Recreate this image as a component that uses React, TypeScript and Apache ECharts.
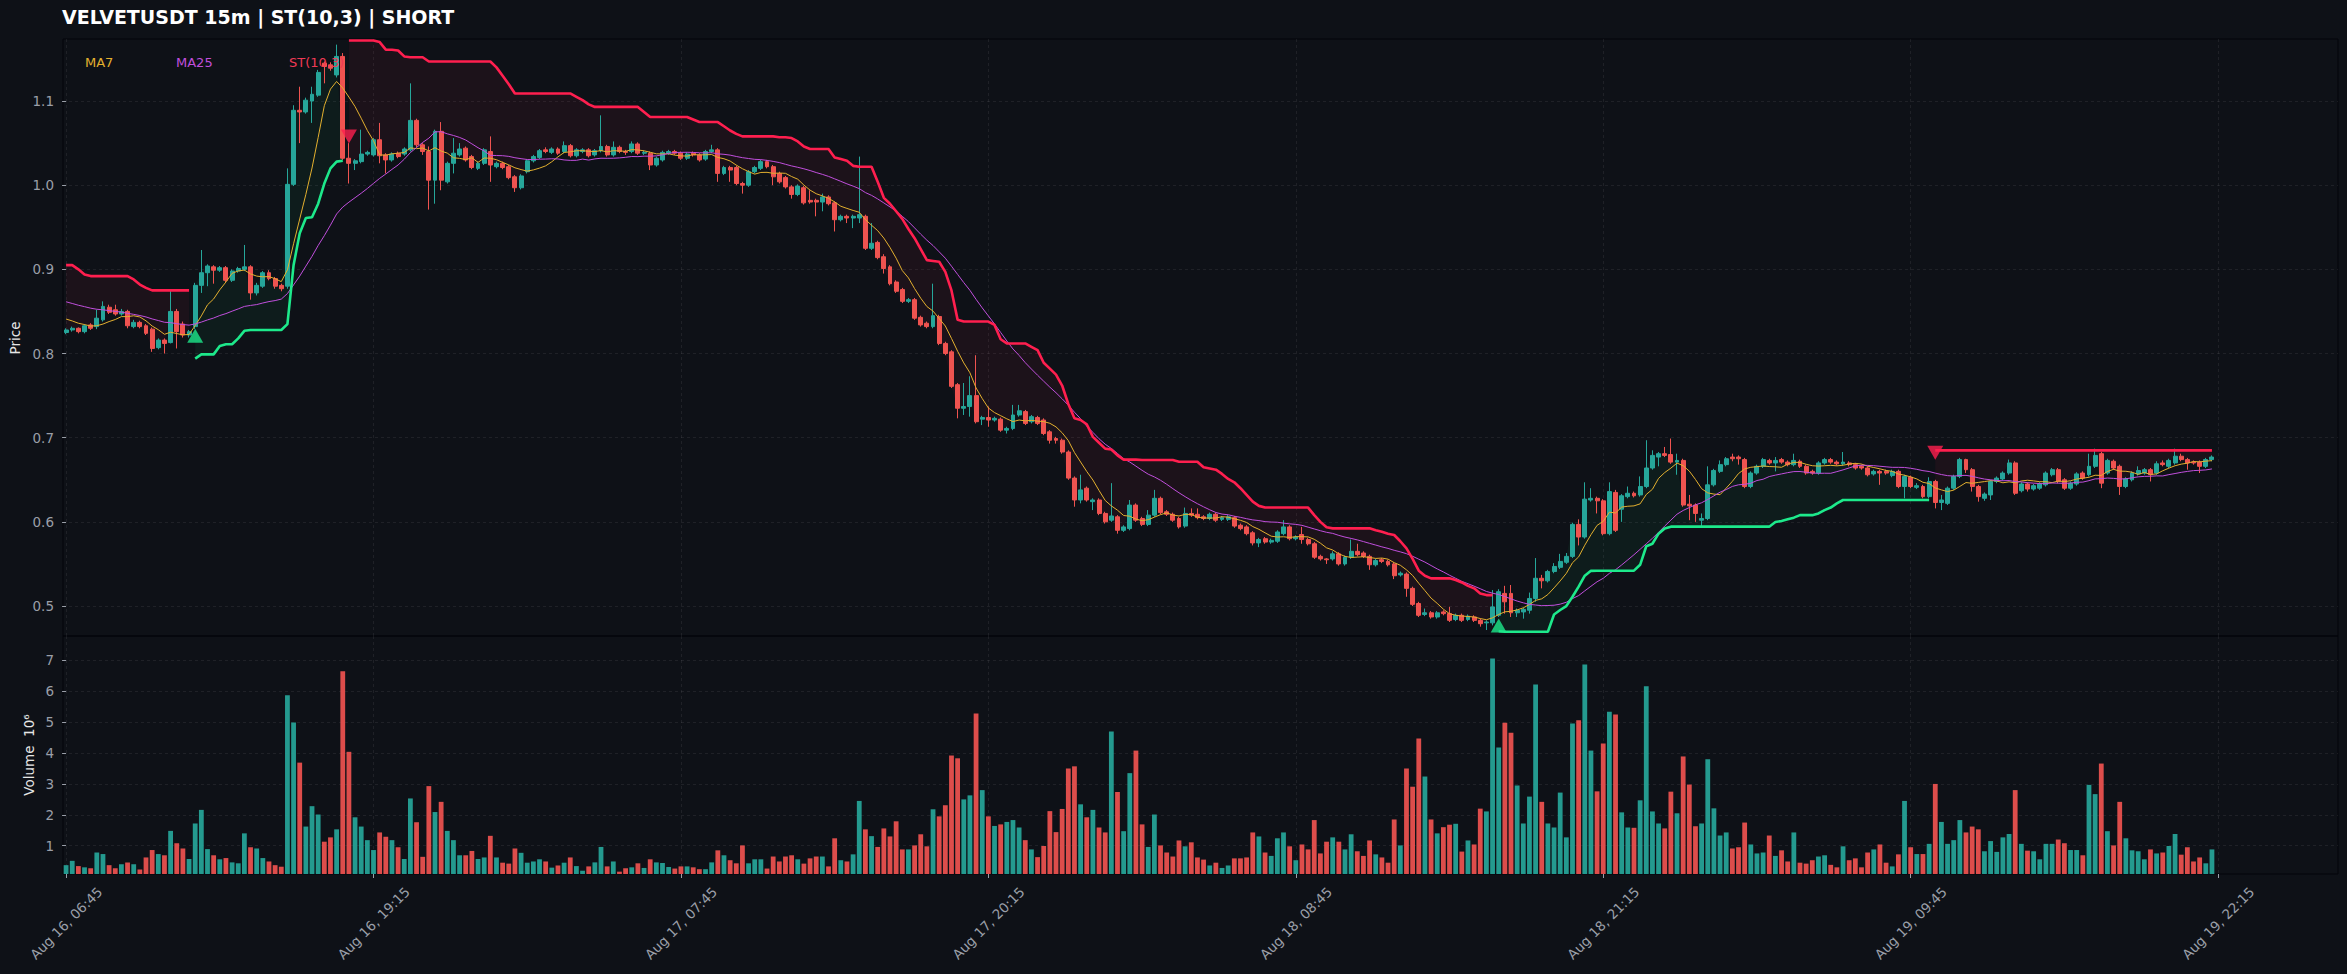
import React, { useEffect, useRef } from "react";
import * as echarts from "echarts";

// ---------------- DATA ----------------
const TITLE = "VELVETUSDT 15m | ST(10,3) | SHORT";
const TICK_LABELS = [
  "Aug 16, 06:45", "Aug 16, 19:15", "Aug 17, 07:45", "Aug 17, 20:15",
  "Aug 18, 08:45", "Aug 18, 21:15", "Aug 19, 09:45", "Aug 19, 22:15",
];
const TICK_STEP = 50; // bars between date ticks

// closes before the first visible bar (only used to seed the moving averages)
const PRIOR_CLOSES = [
  .880, .878, .876, .875, .874, .873, .872, .871, .870, .869, .868, .867,
  .866, .865, .864, .863, .862, .857, .846, .845, .844, .842, .840, .842,
];

// [open, close, low, high]
const OHLC: number[][] = [
  [.825,.828,.823,.830],[.828,.830,.826,.832],[.830,.826,.824,.831],[.826,.833,.824,.835],[.834,.830,.828,.836],
  [.832,.842,.829,.852],[.840,.856,.838,.862],[.855,.849,.847,.858],[.852,.847,.845,.858],[.847,.850,.845,.853],
  [.850,.833,.830,.852],[.832,.837,.830,.840],[.837,.832,.830,.839],[.833,.824,.822,.835],[.829,.806,.802,.831],
  [.807,.816,.805,.818],[.816,.812,.800,.818],[.813,.850,.812,.876],[.850,.826,.806,.853],[.835,.822,.819,.838],
  [.822,.826,.819,.828],[.832,.881,.829,.884],[.881,.896,.872,.923],[.896,.904,.880,.906],[.903,.899,.883,.905],
  [.899,.902,.897,.904],[.902,.887,.885,.904],[.887,.898,.885,.900],[.898,.901,.896,.903],[.900,.903,.898,.929],
  [.903,.872,.864,.905],[.872,.881,.869,.884],[.880,.896,.878,.898],[.896,.889,.887,.899],[.889,.880,.877,.891],
  [.881,.877,.874,.883],[.880,1.001,.877,1.020],[1.001,1.089,.999,1.095],[1.089,1.087,1.050,1.117],[1.087,1.101,1.085,1.104],
  [1.100,1.108,1.074,1.117],[1.107,1.134,1.105,1.137],[1.145,1.141,1.121,1.147],[1.143,1.139,1.136,1.146],[1.131,1.153,1.128,1.167],
  [1.153,1.032,1.030,1.157],[1.032,1.026,1.002,1.050],[1.026,1.029,1.018,1.031],[1.028,1.037,1.026,1.066],[1.037,1.039,1.035,1.041],
  [1.036,1.054,1.034,1.056],[1.054,1.035,1.026,1.074],[1.036,1.030,1.014,1.038],[1.030,1.037,1.028,1.039],[1.038,1.034,1.032,1.040],
  [1.037,1.043,1.035,1.045],[1.042,1.077,1.040,1.121],[1.077,1.048,1.045,1.079],[1.048,1.040,1.036,1.050],[1.040,1.006,.971,1.046],
  [1.006,1.064,.978,1.066],[1.064,1.006,.994,1.075],[1.004,1.026,1.002,1.028],[1.026,1.038,1.014,1.056],[1.036,1.043,1.034,1.050],
  [1.044,1.030,1.028,1.046],[1.034,1.021,1.019,1.036],[1.020,1.026,1.018,1.028],[1.026,1.042,1.024,1.044],[1.040,1.024,1.004,1.058],
  [1.022,1.026,1.020,1.028],[1.026,1.021,1.019,1.028],[1.022,1.009,1.007,1.024],[1.010,.997,.992,1.012],[.997,1.011,.995,1.013],
  [1.016,1.029,1.014,1.031],[1.029,1.034,1.027,1.036],[1.033,1.041,1.031,1.043],[1.042,1.040,1.038,1.045],[1.039,1.043,1.037,1.045],
  [1.043,1.038,1.036,1.045],[1.040,1.047,1.038,1.052],[1.047,1.035,1.033,1.049],[1.035,1.042,1.033,1.044],[1.040,1.042,1.038,1.044],
  [1.042,1.035,1.033,1.044],[1.036,1.041,1.034,1.043],[1.041,1.046,1.039,1.083],[1.046,1.036,1.034,1.048],[1.036,1.045,1.034,1.052],
  [1.045,1.040,1.038,1.047],[1.040,1.039,1.036,1.042],[1.040,1.049,1.038,1.052],[1.049,1.038,1.036,1.051],[1.038,1.039,1.036,1.041],
  [1.038,1.024,1.018,1.040],[1.024,1.032,1.022,1.034],[1.030,1.039,1.028,1.041],[1.038,1.040,1.036,1.042],[1.040,1.038,1.036,1.042],
  [1.038,1.032,1.030,1.040],[1.032,1.037,1.030,1.039],[1.038,1.036,1.034,1.040],[1.036,1.030,1.028,1.038],[1.031,1.040,1.029,1.042],
  [1.040,1.042,1.038,1.048],[1.042,1.014,1.004,1.044],[1.014,1.021,1.012,1.023],[1.021,1.018,1.004,1.023],[1.021,1.002,1.000,1.023],
  [1.002,1.000,.990,1.004],[1.000,1.016,.998,1.018],[1.016,1.021,1.014,1.023],[1.020,1.028,1.018,1.030],[1.028,1.022,1.020,1.030],
  [1.022,1.010,1.000,1.024],[1.014,1.004,1.002,1.016],[1.009,.998,.996,1.011],[.998,.989,.984,1.000],[.989,.999,.987,1.001],
  [.997,.979,.977,.999],[.982,.980,.978,.994],[.982,.980,.963,.984],[.980,.986,.969,.990],[.986,.978,.976,.988],
  [.979,.959,.945,.981],[.959,.963,.957,.965],[.963,.961,.955,.965],[.961,.963,.949,.965],[.961,.965,.955,1.034],
  [.963,.925,.923,.965],[.925,.931,.923,.955],[.932,.914,.912,.934],[.915,.901,.895,.918],[.903,.883,.881,.905],
  [.885,.874,.872,.887],[.876,.862,.860,.878],[.862,.864,.860,.866],[.864,.842,.840,.866],[.843,.834,.832,.845],
  [.836,.832,.830,.838],[.832,.845,.830,.883],[.844,.812,.810,.846],[.812,.800,.798,.814],[.802,.761,.759,.804],
  [.763,.735,.723,.765],[.735,.737,.727,.765],[.737,.750,.725,.773],[.750,.719,.717,.798],[.722,.724,.715,.726],
  [.724,.721,.713,.737],[.721,.723,.719,.725],[.722,.709,.707,.724],[.709,.711,.705,.713],[.711,.727,.709,.739],
  [.727,.732,.725,.739],[.731,.717,.715,.733],[.719,.725,.717,.727],[.724,.717,.715,.726],[.721,.705,.703,.723],
  [.707,.697,.693,.709],[.699,.697,.693,.701],[.697,.683,.681,.699],[.683,.652,.650,.685],[.652,.626,.618,.654],
  [.626,.638,.622,.656],[.640,.626,.624,.642],[.624,.626,.614,.628],[.626,.610,.608,.628],[.610,.600,.598,.612],
  [.602,.607,.600,.646],[.606,.590,.586,.608],[.590,.594,.588,.596],[.592,.620,.590,.626],[.620,.602,.600,.622],
  [.604,.597,.595,.606],[.597,.608,.595,.614],[.608,.628,.606,.638],[.628,.611,.609,.630],[.612,.609,.607,.614],
  [.609,.602,.600,.611],[.604,.594,.592,.606],[.595,.610,.593,.617],[.610,.608,.606,.616],[.609,.605,.603,.616],
  [.606,.604,.602,.608],[.604,.609,.602,.611],[.609,.602,.600,.611],[.603,.605,.601,.607],[.603,.606,.601,.608],
  [.605,.595,.593,.607],[.596,.592,.590,.598],[.594,.586,.584,.596],[.587,.575,.572,.589],[.575,.579,.570,.581],
  [.580,.576,.574,.582],[.576,.578,.574,.580],[.577,.588,.575,.590],[.586,.594,.584,.602],[.594,.580,.578,.596],
  [.580,.582,.578,.584],[.585,.579,.574,.594],[.579,.574,.572,.581],[.574,.558,.556,.576],[.559,.556,.554,.561],
  [.556,.555,.550,.557],[.556,.562,.554,.565],[.562,.550,.548,.564],[.550,.558,.548,.560],[.558,.565,.556,.579],
  [.565,.561,.559,.574],[.563,.559,.557,.565],[.559,.549,.543,.561],[.549,.554,.547,.556],[.555,.553,.551,.557],
  [.553,.549,.547,.555],[.550,.536,.532,.552],[.537,.539,.535,.541],[.538,.521,.511,.540],[.521,.502,.500,.523],
  [.503,.489,.487,.505],[.490,.492,.488,.497],[.492,.487,.485,.494],[.487,.492,.485,.494],[.493,.491,.489,.495],
  [.491,.483,.481,.499],[.484,.489,.482,.491],[.489,.483,.481,.491],[.484,.488,.482,.490],[.487,.483,.481,.489],
  [.483,.479,.4755,.485],[.480,.481,.4715,.483],[.480,.499,.477,.519],[.489,.517,.487,.520],[.515,.505,.491,.524],
  [.515,.492,.487,.525],[.492,.495,.487,.497],[.493,.496,.485,.498],[.495,.509,.491,.516],[.509,.533,.505,.557],
  [.533,.530,.521,.537],[.530,.541,.528,.543],[.541,.547,.539,.551],[.546,.553,.544,.562],[.552,.559,.550,.563],
  [.559,.597,.557,.599],[.597,.582,.572,.603],[.582,.627,.580,.647],[.626,.628,.624,.640],[.628,.625,.610,.630],
  [.625,.586,.584,.627],[.586,.636,.584,.647],[.635,.590,.588,.638],[.615,.631,.600,.633],[.630,.634,.628,.642],
  [.634,.631,.629,.636],[.632,.642,.630,.654],[.642,.664,.640,.697],[.664,.679,.662,.685],[.677,.681,.666,.683],
  [.681,.679,.677,.689],[.680,.671,.669,.699],[.671,.673,.656,.681],[.673,.620,.618,.675],[.621,.619,.602,.632],
  [.620,.610,.600,.622],[.602,.604,.595,.610],[.604,.644,.602,.666],[.644,.661,.642,.663],[.660,.668,.658,.673],
  [.668,.675,.666,.677],[.677,.675,.672,.681],[.677,.675,.668,.679],[.674,.642,.640,.676],[.642,.658,.640,.660],
  [.658,.666,.656,.668],[.666,.674,.664,.676],[.673,.670,.668,.675],[.670,.673,.660,.677],[.674,.671,.669,.676],
  [.671,.668,.666,.673],[.668,.673,.666,.681],[.672,.666,.664,.674],[.666,.658,.656,.668],[.660,.658,.656,.662],
  [.658,.670,.656,.672],[.670,.674,.668,.676],[.674,.671,.669,.676],[.671,.669,.667,.673],[.669,.671,.667,.683],
  [.670,.668,.666,.672],[.668,.664,.662,.670],[.666,.664,.662,.668],[.664,.656,.654,.666],[.657,.660,.655,.662],
  [.660,.658,.644,.662],[.660,.658,.656,.662],[.655,.660,.653,.662],[.660,.642,.640,.662],[.642,.654,.628,.656],
  [.653,.642,.640,.655],[.641,.643,.639,.646],[.642,.630,.628,.644],[.630,.648,.628,.653],[.648,.623,.616,.650],
  [.623,.626,.614,.632],[.622,.640,.620,.642],[.640,.654,.638,.656],[.654,.674,.652,.676],[.674,.662,.658,.675],
  [.662,.642,.636,.664],[.642,.630,.624,.644],[.628,.633,.625,.635],[.632,.648,.626,.650],[.648,.652,.646,.654],
  [.651,.658,.649,.660],[.658,.670,.656,.674],[.670,.634,.632,.672],[.637,.645,.635,.647],[.645,.639,.636,.647],
  [.639,.643,.637,.645],[.640,.645,.638,.647],[.644,.658,.642,.660],[.656,.662,.654,.664],[.662,.648,.646,.664],
  [.650,.640,.638,.652],[.640,.646,.638,.648],[.645,.657,.643,.659],[.658,.652,.650,.660],[.656,.666,.654,.681],
  [.666,.679,.664,.687],[.681,.646,.640,.683],[.658,.673,.656,.675],[.672,.664,.662,.674],[.666,.642,.632,.668],
  [.642,.651,.640,.653],[.650,.658,.648,.660],[.657,.661,.655,.666],[.658,.662,.656,.664],[.662,.656,.648,.664],
  [.658,.669,.656,.672],[.670,.668,.666,.673],[.666,.673,.664,.675],[.670,.678,.668,.687],[.678,.674,.672,.681],
  [.674,.670,.662,.676],[.671,.670,.668,.673],[.671,.666,.658,.673],[.666,.674,.664,.676],[.674,.677,.672,.679],
];

// volume in millions
const VOLUME = [
  .37,.51,.34,.30,.27,.78,.73,.37,.27,.40, .46,.40,.23,.62,.86,.73,.69,1.48,1.08,.91,
  .57,1.72,2.16,.89,.69,.56,.60,.46,.43,1.40, .95,.91,.60,.49,.37,.32,5.87,4.99,3.69,1.62,
  2.28,2.01,1.13,1.27,1.53,6.65,4.04,1.92,1.62,1.18, .86,1.43,1.29,1.18,.95,.57,2.53,1.76,.64,2.93,
  2.09,2.42,1.48,1.18,.69,.69,.83,.57,.62,1.32, .62,.45,.42,.91,.77,.45,.49,.56,.49,.29,
  .36,.45,.62,.34,.19,.33,.46,.96,.33,.49, .16,.27,.30,.43,.28,.56,.46,.44,.31,.26,
  .33,.33,.30,.24,.24,.46,.85,.69,.53,.43, 1.01,.43,.56,.56,.26,.65,.49,.65,.69,.56,
  .42,.59,.65,.65,.33,1.24,.53,.49,.72,2.45, 1.53,1.31,.96,1.56,1.30,1.79,.88,.88,1.01,1.37,
  .98,2.18,1.95,2.31,3.92,3.83,2.50,2.63,5.28,2.80, 1.95,1.64,1.69,1.77,1.83,1.59,1.18,.88,.63,.99,
  2.12,1.44,2.19,3.50,3.57,2.34,1.92,2.16,1.59,1.43, 4.70,2.74,1.47,3.35,4.08,1.69,.96,2.01,1.01,.78,
  .65,1.17,.98,1.11,.62,.55,.36,.45,.28,.36, .59,.59,.62,1.43,1.30,.78,.67,1.24,1.43,.98,
  .53,1.04,.88,1.83,.75,1.13,1.27,1.13,.88,1.37, .82,.67,1.17,.72,.62,.45,1.85,1.01,3.50,2.91,
  4.47,3.24,1.85,1.40,1.60,1.68,1.71,.81,1.17,1.04, 2.20,2.11,7.06,4.18,4.98,4.66,2.95,1.72,2.59,6.22,
  2.42,1.72,1.59,2.72,1.27,4.96,5.06,6.87,4.08,2.76, 4.31,5.34,5.25,2.08,1.59,1.58,2.47,6.16,2.11,1.72,
  1.56,2.75,2.05,3.89,2.98,1.63,1.72,3.80,2.21,1.33, 1.43,.91,.95,1.75,1.04,.75,.78,1.33,.67,.85,
  .49,1.43,.45,.42,.53,.65,.69,.38,.30,.98, .53,.59,.30,.78,.88,1.04,.45,.33,.72,2.45,
  .95,.73,.73,1.06,3.00,1.77,1.06,1.18,1.83,1.43, 1.62,1.53,.82,1.15,.80,1.27,1.38,2.80,1.06,.84,
  .82,.56,1.06,1.06,1.20,1.08,.86,.86,.69,2.97, 2.67,3.66,1.47,1.01,2.42,1.24,.85,.82,.56,.88,
  .75,.78,.99,1.38,.71,.95,.49,.62,.43,.88,
];

// SuperTrend(10,3) as drawn: [start bar, values]
const ST_DOWN_SEGMENTS: [number, number[]][] = [
  [0, [.905,.905,.900,.894,.892,.892,.892,.892,.892,.892,.892,.888,.882,.878,.875,.875,.875,.875,.875,.875,.875]],
  [46, [
    1.172,1.172,1.172,1.172,1.172,1.170,1.161,1.161,1.160,1.153,1.152,1.152,1.152,
    1.147,1.147,1.147,1.147,1.147,1.147,1.147,1.147,1.147,1.147,1.147,
    1.140,1.130,1.120,1.109,1.109,1.109,1.109,1.109,1.109,1.109,1.109,1.109,1.109,
    1.105,1.101,1.096,1.093,1.093,1.093,1.093,1.093,1.093,1.093,1.093,1.087,
    1.081,1.081,1.081,1.081,1.081,1.081,1.081,1.078,1.075,1.075,1.075,1.075,
    1.070,1.065,1.061,1.058,1.058,1.058,1.058,1.058,1.058,
    1.057,1.057,1.056,1.052,1.046,1.043,1.043,1.043,1.043,1.033,1.031,1.029,1.023,1.022,1.022,1.022,
    1.004,.985,.978,.969,.960,.948,.937,.924,.911,.910,.909,.897,.875,.840,.838,.838,.838,.838,.838,.834,
    .817,.812,.812,.812,.812,.808,.804,.789,.782,.775,.762,.740,.723,.721,.716,.701,.694,.687,.686,.679,
    .674,.674,.674,
    .6735,.6735,.6735,.6735,.6735,.6735,.6715,.6715,.6715,.6715,
    .665,.6635,.662,.657,.651,.647,.640,.632,.624,.619,
    .617,.617,.617,.617,.617,.617,.617,.617,.608,.600,.5935,
    .5923,.5923,.5923,.5923,.5923,.5923,.5923,.590,.5883,.586,.5844,.577,.5685,.556,.542,.536,
    .5329,.5329,.5329,.5329,.531,.528,.524,.521,.515,.513,.513,
  ]],
  [304, [
    .685,.685,.685,.685,.685,.685,.685,.685,.685,.685,.685,.685,.685,.685,.685,.685,
    .685,.685,.685,.685,.685,.685,.685,.685,.685,.685,.685,.685,.685,.685,.685,.685,
    .685,.685,.685,.685,.685,.685,.685,.685,.685,.685,.685,.685,.685,.685,
  ]],
];
const ST_UP_SEGMENTS: [number, number[]][] = [
  [21, [.794,.799,.799,.799,.809,.811,.811,.818,.827,.828,.828,.828,.828,.828,.828,.835,.905,.943,.961,.962,.978,1.002,1.020,1.028,1.029]],
  [233, [
    .470,.4695,.4695,.4695,.4695,.4695,.4695,.4695,.4695,.490,.4953,.500,.511,.523,.536,.5418,
    .542,.542,.542,.542,.542,.542,.542,.549,.571,.574,.586,.592,
    .5943,.5943,.5943,.5943,.5943,.5943,.5943,.5943,.5943,.5943,.5943,.5943,.5943,.5943,.5943,.5943,.5943,
    .5998,.601,.603,.605,.608,.608,.608,.610,.614,.617,.622,
    .626,.626,.626,.626,.626,.626,.626,.626,.626,.626,.626,.626,.626,.626,.626,
  ]],
];

const BUY_SIGNALS = [[21, 0.821], [233, 0.477]];
const SELL_SIGNALS = [[46, 1.058], [304, 0.682]];

// ---------------- STYLE ----------------
const W = 2347;
const H = 974;
const SLOTS = 370; // x range incl. right padding
const FONT = "DejaVu Sans";
const BG = "#0e1117";
const UP = "#26a69a";
const DOWN = "#ef5350";
const ST_RED = "#ff1f4f";
const ST_GREEN = "#1de98b";
const MA7_C = "#e3b02f";
const MA25_C = "#c04fdc";
const LABEL_C = "#9a9fa8";
const GRID_LINE = { color: "rgba(255,255,255,0.07)", type: [3, 3] as any, width: 1 };
const SPLIT = { show: true, showMinLine: false, showMaxLine: false, lineStyle: GRID_LINE };

function movingAvg(period: number) {
  const all = PRIOR_CLOSES.concat(OHLC.map((r) => r[1]));
  const off = PRIOR_CLOSES.length;
  return OHLC.map((_, i) => {
    const end = off + i;
    const start = Math.max(0, end - period + 1);
    let s = 0;
    for (let k = start; k <= end; k++) s += all[k];
    return +(s / (end - start + 1)).toFixed(5);
  });
}

function expand(segs: [number, number[]][]) {
  const out: (number | null)[] = new Array(OHLC.length).fill(null);
  segs.forEach(([s, vals]) => vals.forEach((v, j) => { if (s + j < out.length) out[s + j] = v; }));
  return out;
}

export default function App() {
  const ref = useRef<HTMLDivElement>(null);
  useEffect(() => {
    document.body.style.margin = "0";
    document.body.style.background = BG;
    document.body.style.overflow = "hidden";
    if (!ref.current) return;
    const chart = echarts.init(ref.current, undefined, { renderer: "svg", width: W, height: H });

    const cats = Array.from({ length: SLOTS }, (_, i) => String(i));
    const close = OHLC.map((r) => r[1]);
    const stDown = expand(ST_DOWN_SEGMENTS);
    const stUp = expand(ST_UP_SEGMENTS);
    const redBase = stDown.map((v, i) => (v == null ? null : close[i]));
    const redTop = stDown.map((v, i) => (v == null ? null : +(v - close[i]).toFixed(5)));
    const greenBase = stUp.map((v) => v);
    const greenTop = stUp.map((v, i) => (v == null ? null : +(close[i] - v).toFixed(5)));
    const ma7 = movingAvg(7);
    const ma25 = movingAvg(25);
    const vol = VOLUME.map((v, i) => ({
      value: v,
      itemStyle: { color: OHLC[i][1] >= OHLC[i][0] ? UP : DOWN, opacity: 0.92 },
    }));

    const hidden = { lineStyle: { opacity: 0 }, symbol: "none", silent: true };

    const option: any = {
      animation: false,
      backgroundColor: BG,
      textStyle: { fontFamily: FONT },
      grid: [
        { left: 63, top: 39, width: 2275, height: 597, show: true, borderColor: "#03050a", borderWidth: 1, backgroundColor: "transparent" },
        { left: 63, top: 636, width: 2275, height: 238, show: true, borderColor: "#03050a", borderWidth: 1, backgroundColor: "transparent" },
      ],
      xAxis: [
        { type: "category", gridIndex: 0, data: cats, boundaryGap: true, show: false, position: "top" },
        { type: "category", gridIndex: 1, data: cats, boundaryGap: true, show: false, position: "top" },
        {
          type: "value", gridIndex: 0, position: "bottom", min: -0.5, max: SLOTS - 0.5,
          minInterval: TICK_STEP, maxInterval: TICK_STEP,
          axisLine: { show: false }, axisTick: { show: false }, axisLabel: { show: false },
          splitLine: SPLIT,
        },
        {
          type: "value", gridIndex: 1, position: "bottom", min: -0.5, max: SLOTS - 0.5,
          minInterval: TICK_STEP, maxInterval: TICK_STEP,
          axisLine: { show: false },
          axisTick: { show: true, length: 4, lineStyle: { color: LABEL_C } },
          axisLabel: {
            show: true, rotate: 45, align: "center", verticalAlign: "middle", margin: 49,
            color: LABEL_C, fontSize: 13.5, fontFamily: FONT, showMinLabel: false, showMaxLabel: false,
            hideOverlap: false,
            formatter: (v: number) => {
              const k = Math.round(v / TICK_STEP);
              return Math.abs(v - k * TICK_STEP) < 1e-6 && TICK_LABELS[k] ? TICK_LABELS[k] : "";
            },
          },
          splitLine: SPLIT,
        },
      ],
      yAxis: [
        {
          type: "value", gridIndex: 0, min: 0.4644, max: 1.1737, minInterval: 0.1, maxInterval: 0.1, splitNumber: 7,
          axisLine: { show: false },
          axisTick: { show: true, length: 4, lineStyle: { color: LABEL_C } },
          axisLabel: {
            color: LABEL_C, fontSize: 13.5, fontFamily: FONT, margin: 9, showMinLabel: false, showMaxLabel: false,
            formatter: (v: number) => v.toFixed(1),
          },
          splitLine: SPLIT,
        },
        {
          type: "value", gridIndex: 1, min: 0.084, max: 7.79, minInterval: 1, maxInterval: 1, splitNumber: 7,
          axisLine: { show: false },
          axisTick: { show: true, length: 4, lineStyle: { color: LABEL_C } },
          axisLabel: {
            color: LABEL_C, fontSize: 13.5, fontFamily: FONT, margin: 9, showMinLabel: false, showMaxLabel: false,
            formatter: (v: number) => String(Math.round(v)),
          },
          splitLine: SPLIT,
        },
      ],
      series: [
        { type: "line", xAxisIndex: 0, yAxisIndex: 0, stack: "redfill", data: redBase, z: 1, ...hidden },
        { type: "line", xAxisIndex: 0, yAxisIndex: 0, stack: "redfill", data: redTop, z: 1, ...hidden,
          areaStyle: { color: "rgba(255,31,79,0.085)" } },
        { type: "line", xAxisIndex: 0, yAxisIndex: 0, stack: "greenfill", data: greenBase, z: 1, ...hidden },
        { type: "line", xAxisIndex: 0, yAxisIndex: 0, stack: "greenfill", data: greenTop, z: 1, ...hidden,
          areaStyle: { color: "rgba(29,233,139,0.075)" } },
        {
          type: "candlestick", xAxisIndex: 0, yAxisIndex: 0, data: OHLC, barWidth: "72%", z: 3,
          itemStyle: { color: UP, color0: DOWN, borderColor: UP, borderColor0: DOWN, borderWidth: 1 },
        },
        { type: "line", xAxisIndex: 0, yAxisIndex: 0, data: ma7, symbol: "none", z: 4, silent: true,
          lineStyle: { color: MA7_C, width: 1 } },
        { type: "line", xAxisIndex: 0, yAxisIndex: 0, data: ma25, symbol: "none", z: 4, silent: true,
          lineStyle: { color: MA25_C, width: 1 } },
        { type: "line", xAxisIndex: 0, yAxisIndex: 0, data: stDown, symbol: "none", z: 5, silent: true, connectNulls: false,
          lineStyle: { color: ST_RED, width: 2.6 } },
        { type: "line", xAxisIndex: 0, yAxisIndex: 0, data: stUp, symbol: "none", z: 5, silent: true, connectNulls: false,
          lineStyle: { color: ST_GREEN, width: 2.6 } },
        { type: "scatter", xAxisIndex: 0, yAxisIndex: 0, data: BUY_SIGNALS, symbol: "triangle", symbolSize: [16, 14], z: 6,
          itemStyle: { color: ST_GREEN }, silent: true },
        { type: "scatter", xAxisIndex: 0, yAxisIndex: 0, data: SELL_SIGNALS, symbol: "triangle", symbolRotate: 180, symbolSize: [16, 14], z: 6,
          itemStyle: { color: ST_RED }, silent: true },
        { type: "bar", xAxisIndex: 1, yAxisIndex: 1, data: vol, barWidth: "78%", z: 2, silent: true },
      ],
      graphic: [
        { type: "text", left: 62, top: 7, z: 10,
          style: { text: TITLE, fill: "#ffffff", font: `bold 19px "${FONT}"` } },
        { type: "text", x: 85, y: 62, z: 20,
          style: { text: "MA7", fill: MA7_C, font: `13px "${FONT}"`, verticalAlign: "middle" } },
        { type: "text", x: 176, y: 62, z: 20,
          style: { text: "MA25", fill: MA25_C, font: `13px "${FONT}"`, verticalAlign: "middle" } },
        { type: "text", x: 289, y: 62, z: 20,
          style: { text: "ST(10,3)", fill: "#ef3a55", font: `13px "${FONT}"`, verticalAlign: "middle" } },
        { type: "text", x: 15, y: 338, rotation: Math.PI / 2, z: 10,
          style: { text: "Price", fill: "#e6e6e6", font: `13.5px "${FONT}"`, align: "center", verticalAlign: "middle" } },
        { type: "text", x: 29, y: 755, rotation: Math.PI / 2, z: 10,
          style: { text: "Volume  10\u2076", fill: "#e6e6e6", font: `13.5px "${FONT}"`, align: "center", verticalAlign: "middle" } },
      ],
    };
    chart.setOption(option);
    return () => chart.dispose();
  }, []);
  return <div ref={ref} style={{ width: W, height: H }} />;
}
